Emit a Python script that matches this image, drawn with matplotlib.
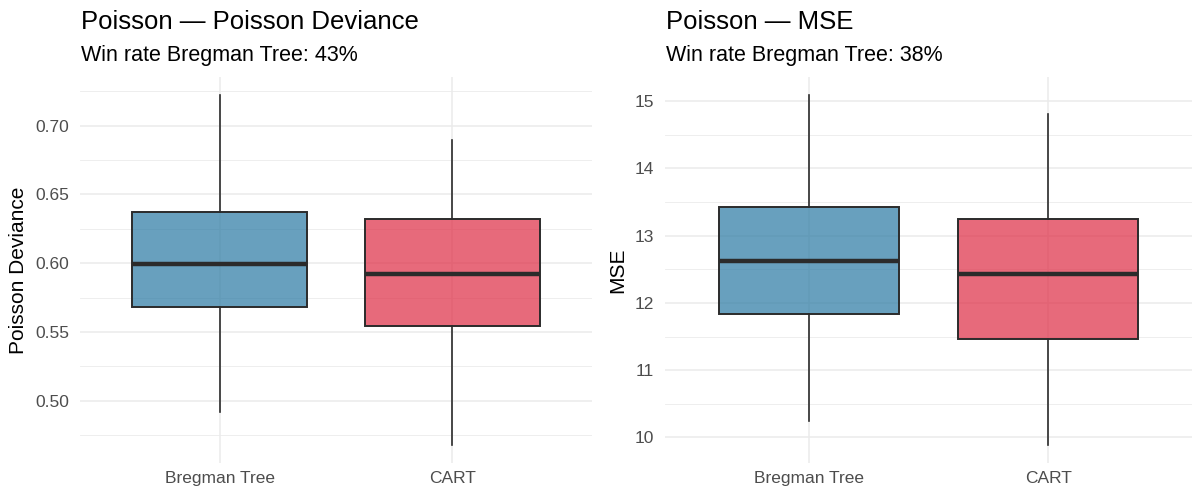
import numpy as np
import matplotlib.pyplot as plt
from matplotlib.colors import to_rgba
from matplotlib.ticker import MultipleLocator

plt.rcParams['font.family'] = ['Liberation Sans', 'DejaVu Sans']

models = ["Bregman Tree", "CART"]
fills = ["#2E7CA5", "#DF3048"]

# box stats: whislo, q1, med, q3, whishi
dev_stats = [[0.492, 0.5683, 0.5997, 0.6375, 0.7225],
             [0.4676, 0.5543, 0.5920, 0.6322, 0.6895]]
mse_stats = [[10.25, 11.83, 12.63, 13.42, 15.10],
             [9.88, 11.46, 12.43, 13.25, 14.81]]

panels = [
    {"title": "Poisson \u2014 Poisson Deviance", "sub": "Win rate Bregman Tree: 43%",
     "ylabel": "Poisson Deviance", "stats": dev_stats, "major": 0.05, "fmt": "%.2f"},
    {"title": "Poisson \u2014 MSE", "sub": "Win rate Bregman Tree: 38%",
     "ylabel": "MSE", "stats": mse_stats, "major": 1, "fmt": "%d"},
]

fig = plt.figure(figsize=(12, 5), dpi=100)
# panel boxes in figure fractions (left, width)
rects = [(80 / 1200, 512 / 1200), (665 / 1200, 527 / 1200)]
for p, (left, width) in zip(panels, rects):
    ax = fig.add_axes([left, 37 / 500, width, 386 / 500])
    bxp = []
    for name, s in zip(models, p["stats"]):
        bxp.append({"label": name, "whislo": s[0], "q1": s[1], "med": s[2],
                    "q3": s[3], "whishi": s[4], "fliers": []})
    res = ax.bxp(bxp, positions=[1, 2], widths=0.75, patch_artist=True,
                 showcaps=False, showfliers=False,
                 boxprops=dict(edgecolor="#2B2B2B", linewidth=1.4),
                 medianprops=dict(color="#2B2B2B", linewidth=3.2, solid_capstyle="butt"),
                 whiskerprops=dict(color="#2B2B2B", linewidth=1.2))
    for box, c in zip(res["boxes"], fills):
        box.set_facecolor(to_rgba(c, 0.72))
        box.set_edgecolor("#2B2B2B")

    lo = min(s[0] for s in p["stats"])
    hi = max(s[4] for s in p["stats"])
    pad = (hi - lo) * 0.05
    ax.set_ylim(lo - pad, hi + pad)
    ax.set_xlim(0.4, 2.6)

    ax.yaxis.set_major_locator(MultipleLocator(p["major"]))
    ax.yaxis.set_minor_locator(MultipleLocator(p["major"] / 2))
    ax.yaxis.set_major_formatter(plt.FormatStrFormatter(p["fmt"]))
    ax.grid(which="major", color="#EBEBEB", linewidth=1.1, zorder=0)
    ax.grid(which="minor", axis="y", color="#EBEBEB", linewidth=0.6, zorder=0)
    ax.set_axisbelow(True)
    for sp in ax.spines.values():
        sp.set_visible(False)
    ax.tick_params(which="both", length=0, labelsize=12.5, labelcolor="#4D4D4D")
    ax.tick_params(axis="y", pad=8)
    ax.tick_params(axis="x", pad=6)
    ax.set_ylabel(p["ylabel"], fontsize=15, color="black", labelpad=5)

    fig.text(left + 1 / 1200, 1 - 29 / 500, p["title"], fontsize=18.5,
             color="black", va="baseline")
    fig.text(left + 1 / 1200, 1 - 61 / 500, p["sub"], fontsize=15.5,
             color="black", va="baseline")

fig.savefig("out.png", dpi=100)
